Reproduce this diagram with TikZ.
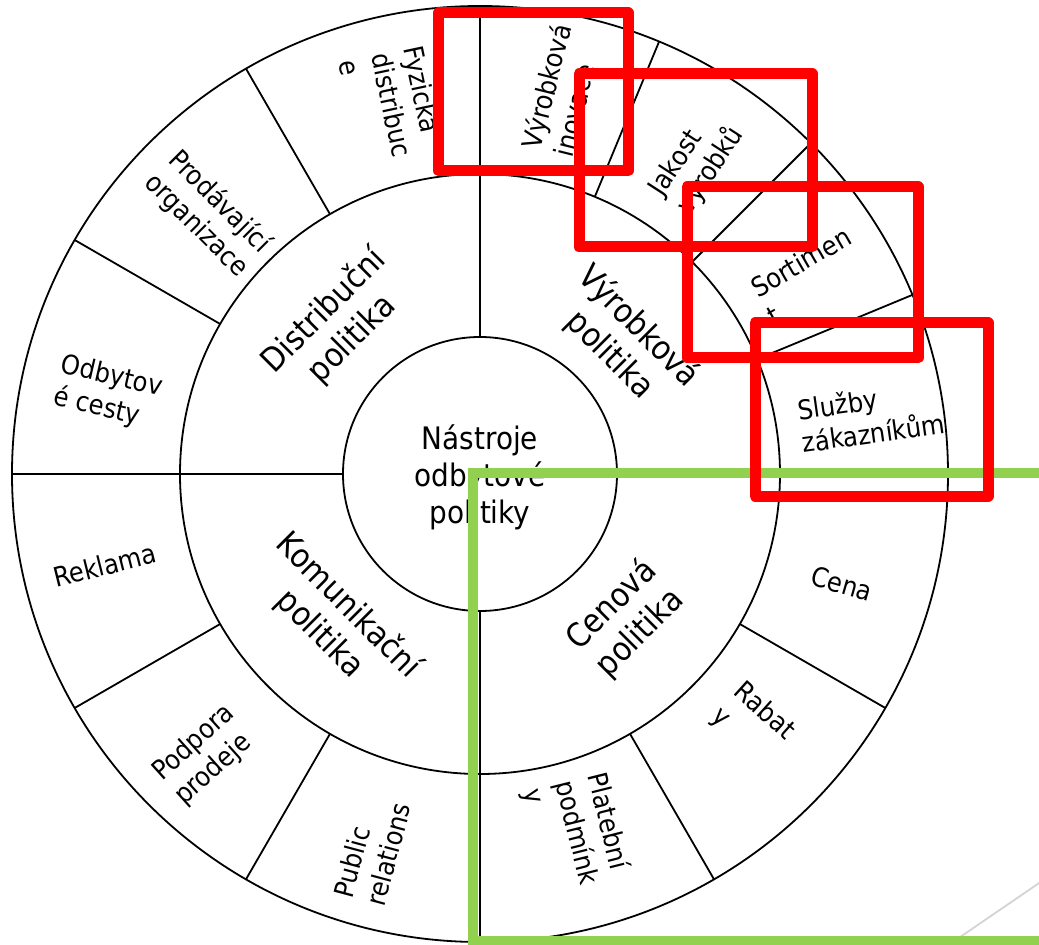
\documentclass[tikz,border=0pt]{standalone}
\usepackage{fontspec}
\setmainfont{DejaVu Sans Condensed}
\definecolor{lightgreen}{RGB}{146,208,80}
\definecolor{faintgrey}{RGB}{212,212,212}
\begin{document}
\begin{tikzpicture}[x=1pt,y=1pt,
  ring/.style={line width=1.8pt, draw=black},
  outerlbl/.style={font=\fontsize{27}{33}\selectfont, align=left, inner sep=0pt},
  midlbl/.style={font=\fontsize{33}{40}\selectfont, align=center, inner sep=0pt},
  centerlbl/.style={font=\fontsize{31}{37}\selectfont, align=center, inner sep=0pt},
  redbox/.style={draw=red, line width=11pt, line join=round},
  greenbox/.style={draw=lightgreen, line width=10pt},
  greyline/.style={draw=faintgrey, line width=1.8pt}
]
\fill[white] (-480,-471) rectangle (559,474);
\useasboundingbox (-480,-471) rectangle (559,474);
\coordinate (O) at (0,0);
% rings
\draw[ring] (O) circle[radius=468];
\draw[ring] (O) circle[radius=300];
\draw[ring] (O) circle[radius=137];
% quadrant spokes
\foreach \a in {0,90,180,270} \draw[ring] (\a:137) -- (\a:468);
% outer dividers
\foreach \a in {120,150,210,240,-30,-60,67.5,45,22.5} \draw[ring] (\a:300) -- (\a:468);
% centre
\node[centerlbl] (centre) at (0,-3) {Nástroje\\odbytové\\politiky};
% middle ring
\node[midlbl, rotate=45]  (distr) at (-142,149)  {Distribuční\\politika};
\node[midlbl, rotate=-45] (vyrob) at (144,133)   {Výrobková\\politika};
\node[midlbl, rotate=-45] (komun) at (-146,-146) {Komunikační\\politika};
\node[midlbl, rotate=45]  (cenov) at (146,-145)  {Cenová\\politika};
% outer ring
\node[outerlbl, rotate=-78] (fyz)  at (-88,369)  {Fyzicka\\distribuc\\e};
\node[outerlbl, rotate=-45] (prod) at (-272,260) {Prodávající\\organizace};
\node[outerlbl, rotate=-13] (odb)  at (-372,81)  {Odbytov\\é cesty};
\node[outerlbl, rotate=14]  (rek)  at (-375,-91) {Reklama};
\node[outerlbl, rotate=42]  (podp) at (-275,-281) {Podpora\\prodeje};
\node[outerlbl, rotate=75]  (pub)  at (-108,-376) {Public\\relations};
\node[outerlbl, rotate=-76] (plat) at (96,-359)  {Platební\\podmínk\\y};
\node[outerlbl, rotate=-42] (rab)  at (273,-250) {Rabat\\y};
\node[outerlbl, rotate=-16] (cena) at (362,-110) {Cena};
\node[outerlbl, rotate=8]   (sluz) at (391,58)   {Služby\\zákazníkům};
\node[outerlbl, rotate=30]  (sort) at (329,198)  {Sortimen\\t};
\node[outerlbl, rotate=57]  (jak)  at (217,312)  {Jakost\\výrobků};
\node[outerlbl, rotate=76]  (inov) at (82,384)   {Výrobková\\inovace};
% faint grey line
\coordinate (g1) at (467,-472);
\coordinate (g2) at (565,-405);
\draw[greyline] (g1) -- (g2);
% green highlight
\coordinate (gA) at (600,1);
\coordinate (gB) at (-7,1);
\coordinate (gC) at (-7,-467);
\coordinate (gD) at (600,-467);
\draw[greenbox] (gA) -- (gB) -- (gC) -- (gD);
% red highlights
\draw[redbox] (-41,461) rectangle (148,303);
\draw[redbox] (99,400) rectangle (332,227);
\draw[redbox] (207,287) rectangle (438,116);
\draw[redbox] (275,151) rectangle (508,-22);
\end{tikzpicture}
\end{document}
